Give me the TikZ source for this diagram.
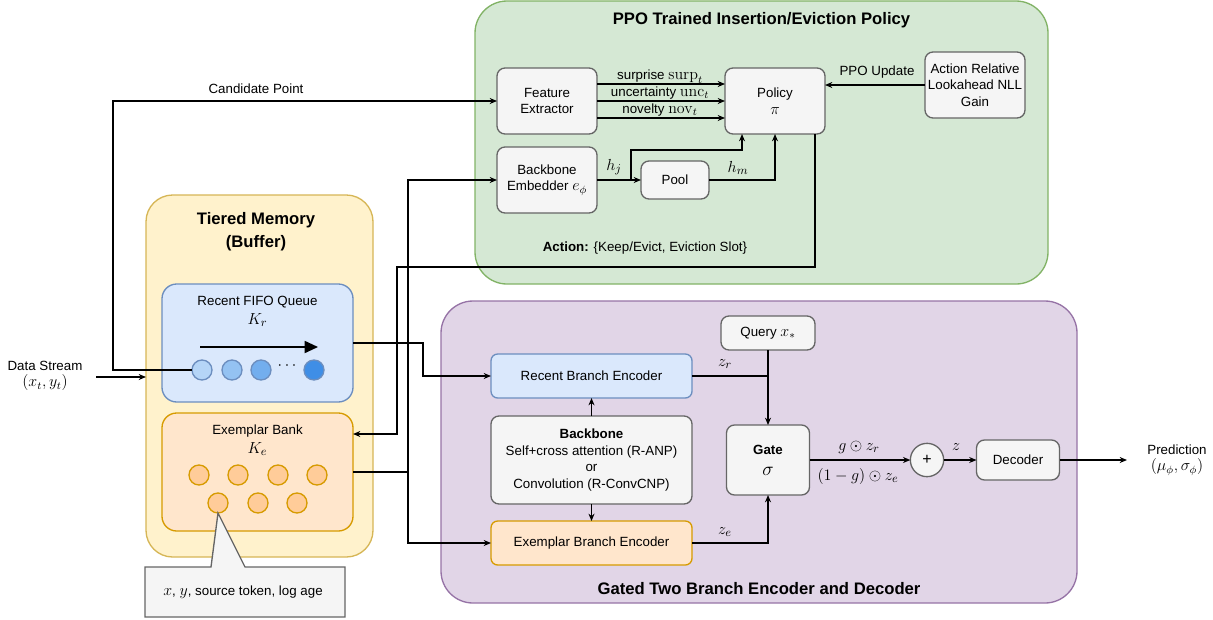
\documentclass[tikz,border=0pt]{standalone}
\usepackage[no-math]{fontspec}
\setmainfont{Liberation Sans}
\usetikzlibrary{arrows.meta,calc}
\definecolor{gfill}{HTML}{D5E8D4}
\definecolor{gline}{HTML}{82B366}
\definecolor{yfill}{HTML}{FFF2CC}
\definecolor{yline}{HTML}{D6B656}
\definecolor{pfill}{HTML}{E1D5E7}
\definecolor{pline}{HTML}{9673A6}
\definecolor{nfill}{HTML}{F5F5F5}
\definecolor{nline}{HTML}{666666}
\definecolor{bfill}{HTML}{DAE8FC}
\definecolor{bline}{HTML}{6C8EBF}
\definecolor{ofill}{HTML}{FFE6CC}
\definecolor{oline}{HTML}{D79B00}
\definecolor{odot}{HTML}{FFCC99}
\definecolor{bdotA}{HTML}{B5D5F7}
\definecolor{bdotB}{HTML}{94C2F2}
\definecolor{bdotC}{HTML}{73AEEE}
\definecolor{bdotD}{HTML}{3F8EE6}
\newcommand{\mth}[1]{{\fontsize{12}{12.5}\selectfont$#1$}}
\begin{document}
\begin{tikzpicture}[x=0.75pt,y=-0.75pt,
  font=\fontsize{10}{12.5}\selectfont,
  every node/.style={inner sep=0pt, outer sep=0pt},
  greenbox/.style={draw=gline, fill=gfill, line width=1pt, rounded corners=24pt},
  yellowbox/.style={draw=yline, fill=yfill, line width=1pt, rounded corners=20pt},
  purplebox/.style={draw=pline, fill=pfill, line width=1pt, rounded corners=24pt},
  fifobox/.style={draw=bline, fill=bfill, line width=1pt, rounded corners=11pt},
  bankbox/.style={draw=oline, fill=ofill, line width=1pt, rounded corners=11pt},
  box/.style={draw=nline, fill=nfill, line width=1pt, rounded corners=6pt, align=center},
  bluebox/.style={draw=bline, fill=bfill, line width=1pt, rounded corners=5pt, align=center},
  orangebox/.style={draw=oline, fill=ofill, line width=1pt, rounded corners=5pt, align=center},
  title/.style={font=\bfseries\fontsize{12.5}{17}\selectfont, align=center},
  bdot/.style={circle, draw=bline, line width=1pt, minimum size=15pt},
  odotst/.style={circle, draw=oline, fill=odot, line width=1pt, minimum size=15pt},
  arr/.style={-{Stealth[length=5.5pt,width=4.5pt]}, line width=1pt},
  ln/.style={line width=1pt},
  mlab/.style={font=\fontsize{12.5}{13}\selectfont}
]
\useasboundingbox (0,0) rectangle (1213,619);

% containers
\node[greenbox, minimum width=429.75pt, minimum height=212.25pt] (ppo) at (761.5,142.5) {};
\node[title] (ppot) at (761.5,20) {PPO Trained Insertion/Eviction Policy};
\node[yellowbox, minimum width=170.25pt, minimum height=271.5pt] (tier) at (259.5,376) {};
\node[title] (tiert) at (256,232) {Tiered Memory\\(Buffer)};
\node[purplebox, minimum width=477pt, minimum height=226.5pt] (gtb) at (759,452) {};
\node[title] (gtbt) at (759,589) {Gated Two Branch Encoder and Decoder};

% memory
\node[fifobox, minimum width=143.25pt, minimum height=88.5pt] (fifo) at (257.5,343) {};
\node (fifot) at (257.5,302) {Recent FIFO Queue};
\node[mlab] (kr) at (257.5,320) {$K_r$};
\coordinate (fa) at (200,347);
\coordinate (fb) at (318,347);
\draw[-{Triangle[length=10pt,width=9pt]}, line width=1.3pt] (fa) -- (fb);
\node[bdot, fill=bdotA] (c1) at (202,370) {};
\node[bdot, fill=bdotB] (c2) at (232,370) {};
\node[bdot, fill=bdotC] (c3) at (261,370) {};
\node[mlab] (cdots) at (287,366) {$\cdots$};
\node[bdot, fill=bdotD] (c4) at (314,370) {};

\node[bankbox, minimum width=143.25pt, minimum height=88.5pt] (bank) at (257.5,472) {};
\node (bankt) at (257.5,431) {Exemplar Bank};
\node[mlab] (ke) at (257.5,449) {$K_e$};
\node[odotst] (e1) at (199,475) {};
\node[odotst] (e2) at (238,475) {};
\node[odotst] (e3) at (278,475) {};
\node[odotst] (e4) at (317,475) {};
\node[odotst] (e5) at (218,503) {};
\node[odotst] (e6) at (258,503) {};
\node[odotst] (e7) at (297,503) {};

% data stream
\node[align=center] (ds) at (45,376) {Data Stream\\\mth{(x_t,y_t)}};
\coordinate (dso) at (96,377);
\draw[arr] (dso) -- (dso -| tier.west);

% policy part
\node[box, minimum width=75pt, minimum height=49.5pt] (fe) at (547,101) {Feature\\Extractor};
\node[box, minimum width=75pt, minimum height=49.5pt] (pol) at (775,101) {Policy\\\mth{\pi}};
\node[box, minimum width=75pt, minimum height=49.5pt] (arl) at (975,85) {Action Relative\\Lookahead NLL\\Gain};
\node[box, minimum width=75pt, minimum height=49.5pt] (be) at (547,180) {Backbone\\Embedder \mth{e_\phi}};
\node[box, minimum width=51pt, minimum height=28.5pt] (pool) at (675,180) {Pool};

\draw[arr] ($(fe.east)+(0,-17)$) -- ($(pol.west)+(0,-17)$);
\draw[arr] (fe.east) -- (pol.west);
\draw[arr] ($(fe.east)+(0,17)$) -- ($(pol.west)+(0,17)$);
\node (l1) at (660,77) {surprise \mth{\mathrm{surp}_t}};
\node (l2) at (660,93) {uncertainty \mth{\mathrm{unc}_t}};
\node (l3) at (660,110) {novelty \mth{\mathrm{nov}_t}};

\draw[arr] (arl.west) -- (arl.west -| pol.east);
\node (ppol) at (877,72) {PPO Update};

\draw[arr] (be.east) -- (pool.west);
\node[mlab] (hjl) at (614,167) {$h_j$};
\coordinate (hj) at (631,180);
\draw[arr] (hj) |- ($(pol.south)+(-33,16)$) -- ($(pol.south)+(-33,0)$);
\draw[arr] (pool.east) -| (pol.south);
\node[mlab] (hml) at (738,168) {$h_m$};

\draw[arr] ($(pol.south)+(40,0)$) |- (397,267) |- ($(bank.east)+(0,-38)$);
\node (actl) at (645,248) {\textbf{Action:} \{Keep/Evict, Eviction Slot\}};

% candidate point
\draw[arr] (c1.west) -- (113,370) |- (fe.west);
\node (candl) at (256,89) {Candidate Point};

% gated part
\node[bluebox, minimum width=150.75pt, minimum height=33pt] (rbe) at (591.5,376) {Recent Branch Encoder};
\node[box, minimum width=150.75pt, minimum height=66pt] (bb) at (591.5,460) {\textbf{Backbone}\\Self+cross attention (R-ANP)\\or\\Convolution (R-ConvCNP)};
\node[orangebox, minimum width=150.75pt, minimum height=33pt] (ebe) at (591.5,543) {Exemplar Branch Encoder};
\draw[arr] (bb.north) -- (rbe.south);
\draw[arr] (bb.south) -- (ebe.north);

% memory outputs
\draw[arr] (bank.east) -- ++(55,0) coordinate (bj) |- (be.west);
\draw[arr] (bj) |- (ebe.west);
\draw[arr] (fifo.east) -- ++(70,0) |- (rbe.west);

\node[box, minimum width=70.5pt, minimum height=25.5pt] (query) at (768,333) {Query \mth{x_*}};
\node[box, minimum width=62.25pt, minimum height=52.5pt] (gate) at (768,460) {\textbf{Gate}\\[3pt]{\fontsize{15}{15}\selectfont$\sigma$}};
\draw[arr] (query.south) -- (gate.north);
\draw[ln] (rbe.east) -- (rbe.east -| query.south);
\node[mlab] (zrl) at (725,364) {$z_r$};
\draw[arr] (ebe.east) -| (gate.south);
\node[mlab] (zel) at (725,532) {$z_e$};

\node[circle, draw=nline, fill=nfill, line width=1pt, minimum size=25pt] (plus) at (927,460) {\large +};
\draw[arr] (gate.east) -- (plus.west);
\node[mlab] (gzr) at (859,447) {$g\odot z_r$};
\node[mlab] (gze) at (858,476) {$(1-g)\odot z_e$};

\node[box, minimum width=62.25pt, minimum height=30pt] (dec) at (1018,460) {Decoder};
\draw[arr] (plus.east) -- (dec.west);
\node[mlab] (zl) at (956,447) {$z$};
\coordinate (predin) at (1127,460);
\draw[arr] (dec.east) -- (predin);
\node[align=center] (pred) at (1177,460) {Prediction\\\mth{(\mu_\phi,\sigma_\phi)}};

% callout
\draw[draw=nline, fill=nfill, line width=1pt] (145,567) -- (211,567) -- (e5.south) -- (245,567) -- (345,567) -- (345,617) -- (145,617) -- cycle;
\node (callt) at (243,592) {\mth{x}, \mth{y}, source token, log age};
\end{tikzpicture}
\end{document}
